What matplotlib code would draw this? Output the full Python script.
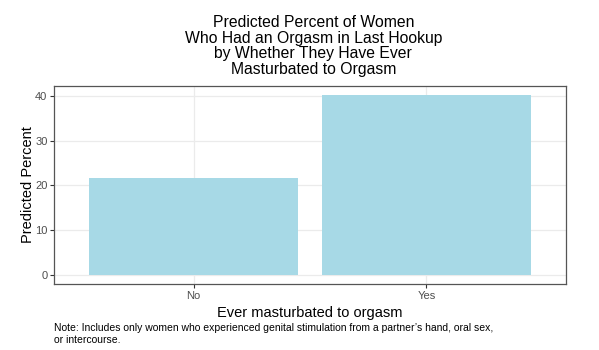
import matplotlib
matplotlib.use('Agg')
import matplotlib.pyplot as plt

plt.rcParams['font.family'] = ['Liberation Sans', 'DejaVu Sans']

categories = ['No', 'Yes']
values = [21.7, 40.2]
yticks = [0, 10, 20, 30, 40]

fig = plt.figure(figsize=(5.99, 3.5), dpi=100)
ax = fig.add_axes([54 / 599, 66 / 350, 512 / 599, 198 / 350])

xpos = [1, 2]
ax.bar(xpos, values, width=0.9, color='#A7D9E6', zorder=2)

ax.set_xlim(0.4, 2.6)
ax.set_ylim(-2.01, 42.2)
ax.set_xticks(xpos)
ax.set_xticklabels(categories)
ax.set_yticks(yticks)
ax.grid(True, color='#EBEBEB', linewidth=0.9, zorder=0)
ax.set_axisbelow(True)
for s in ax.spines.values():
    s.set_color('#555555')
    s.set_linewidth(0.9)
ax.tick_params(colors='#333333', labelcolor='#4D4D4D', labelsize=8, length=2.7, width=0.8, pad=2)

ax.set_xlabel('Ever masturbated to orgasm', fontsize=10.5, labelpad=4)
ax.set_ylabel('Predicted Percent', fontsize=10.5, labelpad=0)

fig.text(0.523, 0.957, 'Predicted Percent of Women\nWho Had an Orgasm in Last Hookup\nby Whether They Have Ever\nMasturbated to Orgasm',
         ha='center', va='top', fontsize=11.3, linespacing=1.05)
fig.text(54 / 599, 1 - 323 / 350, "Note: Includes only women who experienced genital stimulation from a partner\u2019s hand, oral sex,\nor intercourse.",
         ha='left', va='top', fontsize=7.5, linespacing=1.2)

fig.savefig('out.png', dpi=100)
